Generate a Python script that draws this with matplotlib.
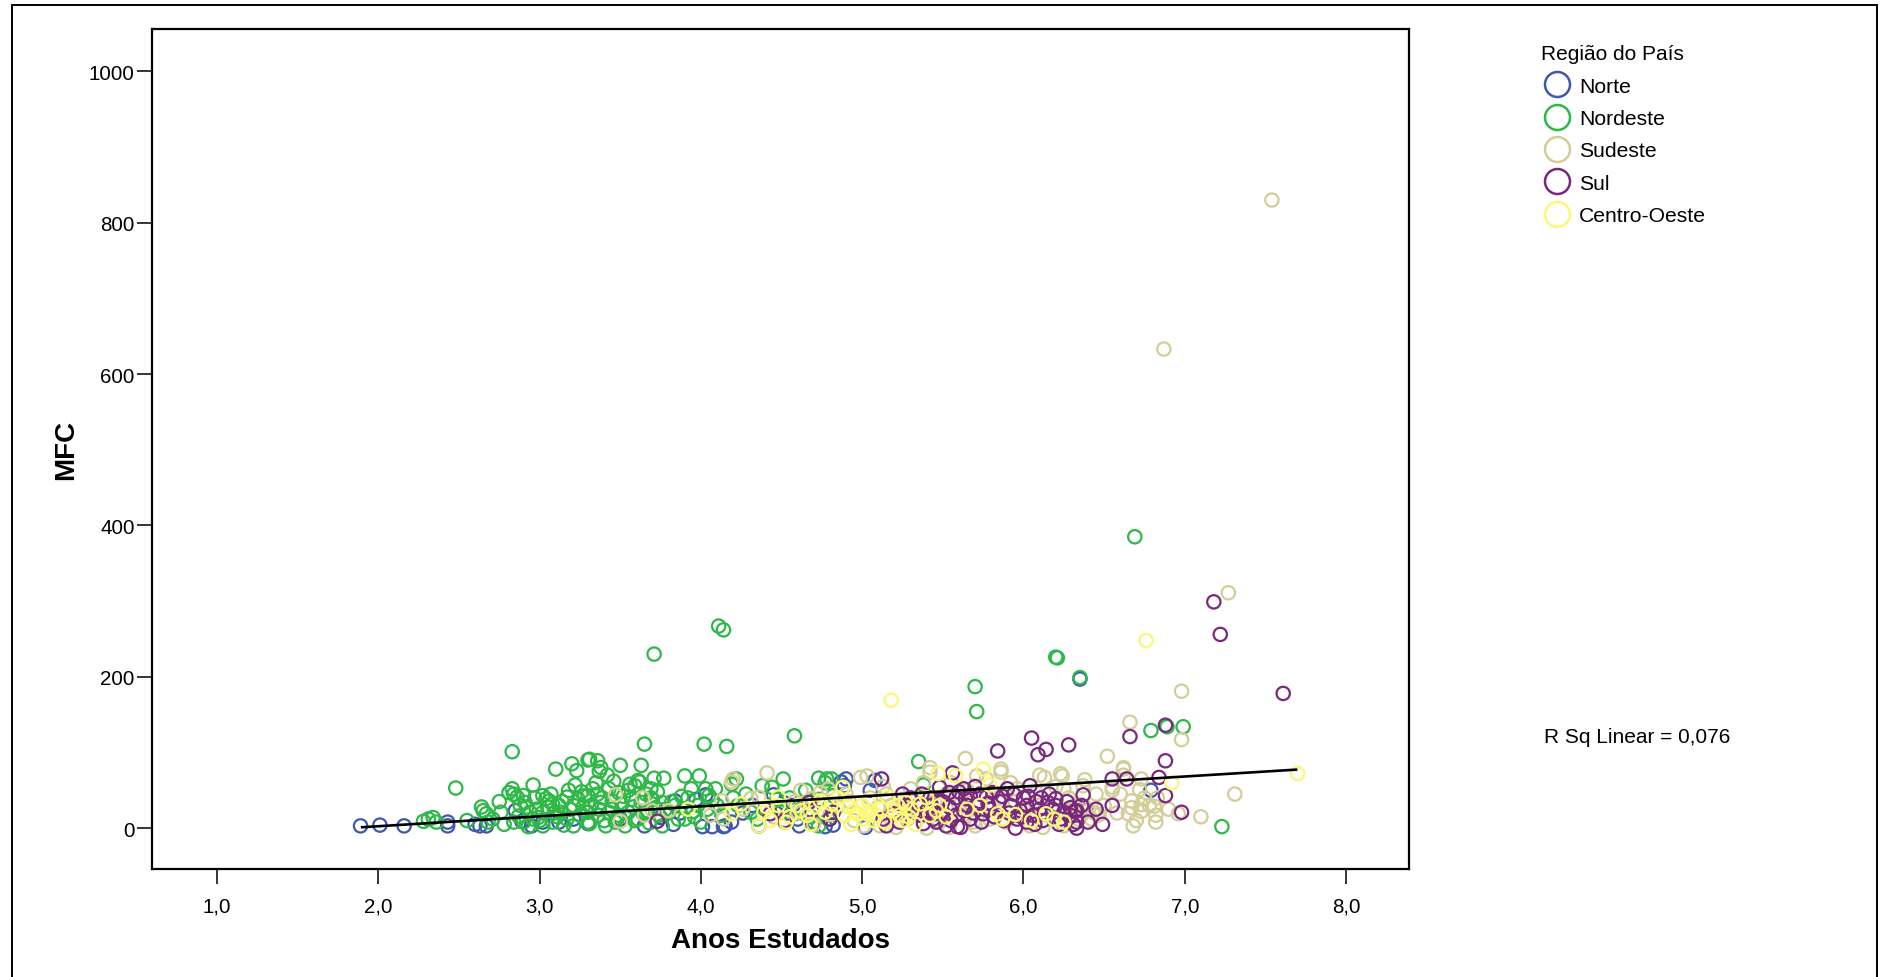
import matplotlib
matplotlib.use("Agg")
import matplotlib.pyplot as plt
from matplotlib.lines import Line2D
from matplotlib.patches import Rectangle

plt.rcParams['font.family'] = ['Liberation Sans', 'DejaVu Sans']

# ---------------- data ----------------
regions = ["Norte", "Nordeste", "Sudeste", "Sul", "Centro-Oeste"]
colors = ["#3e58ac", "#2eb848", "#d3ce97", "#79287d", "#fbf873"]

norte_x = [1.89, 2.01, 2.16, 2.43, 2.43, 2.60, 2.63, 2.67, 2.85, 2.89, 2.95, 3.02, 3.12, 3.21,
           3.65, 3.83, 3.84, 3.87, 3.97, 4.01, 4.07, 4.14, 4.03, 4.15, 4.19, 4.36, 4.45, 4.52,
           4.54, 4.60, 4.61, 4.57, 4.40, 4.32, 4.26, 4.82, 4.89, 4.90, 5.02, 5.05, 5.36, 6.35,
           6.79, 6.39, 4.87, 4.77, 5.08, 3.50, 3.30, 3.75, 4.70]
norte_y = [3, 4, 3, 8, 3, 5, 3, 3, 23, 9, 3, 8, 8, 12,
           3, 5, 36, 20, 38, 2, 2, 2, 44, 3, 8, 3, 44, 33,
           20, 12, 3, 30, 25, 30, 20, 4, 56, 65, 1, 50, 32, 197,
           50, 23, 61, 2, 63, 12, 6, 14, 8]

nordeste_x = [2.48, 2.83, 2.28, 2.31, 2.34, 2.36, 2.55, 2.64, 2.65, 2.67, 2.68, 2.71, 2.76, 2.81,
              2.83, 2.84, 2.86, 2.90, 2.91, 2.92, 2.96, 3.02, 3.04, 3.06, 3.08, 3.10, 3.23, 3.22,
              3.17, 3.28, 3.30, 2.84, 2.90, 2.96, 3.02, 3.08, 3.17, 3.21, 3.25, 3.13, 3.19, 3.21,
              2.98, 3.02, 2.94, 3.29, 3.30,
              3.31, 3.36, 3.38, 3.50, 3.63, 3.65, 4.02, 4.16, 4.58, 3.90, 3.99, 3.77, 3.71, 3.61,
              3.94, 4.03, 4.22, 4.19, 4.38, 4.51, 4.73, 4.78, 3.30, 3.36, 3.43, 3.49, 3.55, 3.59,
              3.62, 3.69, 3.32, 3.38, 3.45, 3.51, 3.57, 3.63, 3.70, 3.76, 3.30, 3.36, 3.43, 3.49,
              3.55, 3.61, 3.67, 3.74, 3.80, 3.86, 3.31, 3.41, 3.47, 3.53, 3.59, 3.76, 3.90, 4.00,
              4.07, 4.10, 4.05, 4.13, 4.23, 4.31, 4.44, 4.50, 4.62, 4.73, 4.77, 4.73, 4.79, 4.82,
              4.82,
              4.11, 4.14, 3.71, 6.69, 6.20, 6.21, 6.35, 5.70, 5.71, 5.35, 5.38, 4.81, 6.79, 6.89,
              6.99, 7.23,
              2.87, 2.99, 3.11, 3.15, 3.27, 3.05, 2.93, 3.12, 3.26, 3.35, 3.45, 3.58, 3.66, 3.72,
              3.84, 3.95, 3.46, 3.40, 3.68, 3.88, 3.98,
              2.75, 2.78, 2.88, 2.97, 3.00, 3.07, 3.09, 3.14, 3.18, 3.24, 3.33, 3.37, 3.39, 3.42,
              3.48, 3.52, 3.56, 3.64, 3.69, 3.73, 3.78, 3.82, 3.92, 3.96, 4.04, 4.09, 4.20, 4.28,
              4.35, 4.47, 4.55, 4.65, 4.68, 3.20, 3.37]
nordeste_y = [53, 101, 9, 12, 14, 8, 10, 28, 23, 19, 8, 12, 21, 47,
              52, 45, 41, 43, 34, 28, 57, 43, 39, 36, 32, 78, 76, 57,
              41, 43, 90, 8, 8, 12, 3, 8, 12, 3, 17, 21, 25, 30,
              25, 21, 21, 21, 8,
              91, 89, 80, 83, 83, 111, 111, 108, 122, 69, 69, 66, 66, 63,
              52, 52, 65, 58, 56, 65, 66, 65, 43, 45, 52, 47, 50, 56,
              61, 52, 30, 34, 36, 32, 38, 34, 38, 34, 21, 17, 21, 17,
              21, 12, 21, 17, 21, 12, 6, 3, 8, 3, 10, 3, 12, 8,
              38, 30, 43, 17, 30, 21, 54, 21, 25, 38, 60, 3, 12, 43,
              21,
              267, 262, 230, 385, 226, 225, 199, 187, 154, 88, 57, 65, 129, 134,
              134, 2,
              16, 14, 15, 4, 28, 28, 2, 30, 48, 60, 25, 28, 45, 27,
              30, 22, 62, 10, 7, 42, 30,
              35, 5, 30, 40, 10, 45, 20, 35, 50, 38, 52, 25, 40, 70,
              12, 42, 58, 20, 40, 48, 25, 35, 40, 15, 25, 52, 40, 45,
              12, 38, 40, 50, 15, 85, 75]

sudeste_x = [7.54, 6.87, 7.27, 6.98, 6.66, 6.98, 6.52, 6.62, 6.73, 6.55, 6.60, 6.67, 6.73, 6.73,
             6.65, 6.68, 6.82, 6.82, 6.37, 6.47, 7.31, 7.10, 6.96, 6.38, 6.40, 6.43, 6.36, 6.42,
             6.46,
             3.47, 3.64, 3.50, 3.65, 3.70, 3.80, 4.06, 4.13, 4.19, 4.20, 4.14, 4.41, 4.36, 4.31,
             4.62, 4.69, 4.74, 4.79, 4.52, 4.60, 4.26,
             4.99, 5.03, 5.30, 5.42, 5.64, 5.71, 5.86, 5.77, 6.13, 6.24, 5.96, 6.08, 6.25, 5.63,
             5.69, 5.79, 5.89, 5.96, 6.32, 6.34, 5.11, 5.21, 5.01, 5.48, 5.54, 6.04, 6.12, 6.25,
             5.42, 5.86, 6.10, 6.23, 6.38, 6.62, 6.62, 6.55, 6.72, 6.75, 6.67, 6.83, 6.81,
             5.15, 5.25, 5.10, 4.92, 5.35, 4.45, 4.70, 4.85, 4.95, 5.20, 5.28, 5.45, 5.52, 5.60,
             5.85, 5.95, 6.00, 6.18, 6.28, 5.40, 5.70,
             4.90, 5.05, 5.13, 5.38, 5.55, 5.65, 5.75, 5.92, 6.05, 6.20, 6.30, 6.45, 6.50, 6.58,
             6.70, 6.78, 6.90, 4.58, 4.80, 5.18]
sudeste_y = [830, 633, 311, 181, 140, 117, 95, 78, 65, 50, 45, 36, 31, 22,
             19, 3, 17, 8, 56, 18, 45, 15, 19, 28, 23, 21, 17, 12,
             17,
             44, 40, 9, 17, 23, 23, 17, 36, 61, 65, 12, 73, 41, 39,
             50, 39, 47, 52, 8, 21, 25,
             67, 69, 52, 74, 92, 69, 74, 65, 67, 69, 52, 47, 52, 17,
             8, 12, 8, 21, 30, 12, 3, 1, 3, 8, 1, 3, 1, 3,
             80, 78, 70, 72, 64, 80, 70, 54, 51, 40, 27, 40, 29,
             45, 38, 28, 35, 30, 15, 5, 28, 10, 20, 12, 35, 45, 30,
             40, 35, 25, 15, 40, 0, 3,
             45, 40, 55, 60, 60, 50, 45, 60, 30, 55, 20, 45, 30, 20,
             10, 30, 25, 35, 18, 30]

sul_x = [7.18, 7.22, 7.61, 6.66, 6.88, 6.88, 6.55, 6.64, 6.84, 6.88, 6.98, 6.37, 6.49, 6.33,
         6.32,
         3.73, 4.43, 4.52, 4.67, 4.69, 4.80, 4.82,
         5.12, 6.05, 5.84, 6.09, 6.14, 6.28, 5.56, 5.90, 6.04, 5.48, 5.54, 5.63, 5.67, 5.73,
         5.77, 5.81, 5.32, 5.36, 5.40, 5.44, 5.50, 5.54, 5.58, 5.63, 5.67, 5.71, 5.75, 5.79,
         5.15, 5.13, 5.19, 5.23, 5.38, 5.46, 5.52, 5.61, 5.92, 5.98, 6.02, 6.06, 6.10, 6.15,
         6.20, 6.25, 6.29, 6.33, 5.96, 6.02, 6.16, 6.20,
         6.29, 6.33, 5.35, 5.45, 5.47, 5.59, 5.64,
         5.85, 5.88, 6.00, 6.12, 6.22, 5.70, 5.95, 6.08, 5.58, 5.42, 5.28, 5.25, 6.40, 6.55,
         5.30, 5.37, 5.43, 5.50, 5.55, 5.60, 5.65, 5.69, 5.74, 5.78, 5.82, 5.87, 5.91, 5.94,
         5.99, 6.03, 6.07, 6.11, 6.13, 6.18, 6.23, 6.27, 6.31, 6.36, 6.45]
sul_y = [299, 256, 178, 121, 136, 89, 65, 65, 67, 43, 21, 44, 5, 0,
         23,
         9, 19, 10, 34, 23, 12, 21,
         65, 119, 102, 97, 104, 110, 73, 52, 56, 54, 47, 52, 43, 45,
         41, 47, 21, 17, 23, 12, 21, 28, 17, 23, 12, 30, 19, 25,
         3, 12, 19, 8, 6, 8, 3, 1, 30, 23, 30, 17, 25, 34,
         30, 21, 17, 23, 12, 8, 45, 39,
         27, 8, 30, 19, 35, 2, 39,
         35, 10, 40, 10, 5, 55, 0, 35, 40, 40, 30, 45, 8, 30,
         40, 45, 30, 35, 10, 48, 30, 20, 8, 33, 15, 42, 20, 45,
         15, 42, 5, 40, 20, 25, 12, 35, 5, 30, 25]

co_x = [6.76, 5.18, 7.70, 6.92,
        3.92, 4.19, 4.25, 4.39, 4.41, 4.43, 4.48, 4.48, 4.53, 4.62, 4.66, 4.71, 4.74, 4.77,
        4.81, 4.36,
        4.88, 4.89, 4.92, 4.95, 4.97, 5.00, 5.01, 5.03, 5.05, 5.07, 5.09, 5.16, 5.20, 5.22,
        5.23, 5.25, 5.27, 5.31, 5.36, 5.42, 5.46, 5.48, 5.58, 5.47, 5.75, 5.79, 5.73, 5.84,
        5.87, 6.14, 6.19,
        4.55, 4.60, 4.68, 4.85, 4.93, 5.04, 5.12, 5.14, 5.29, 5.33, 5.40, 5.52, 5.65, 5.95,
        6.05, 6.25]
co_y = [248, 169, 72, 60,
        25, 19, 32, 21, 28, 10, 41, 30, 8, 23, 17, 28, 36, 21,
        32, 3,
        54, 17, 28, 23, 19, 30, 12, 19, 23, 10, 17, 41, 23, 30,
        17, 10, 34, 25, 32, 17, 23, 30, 69, 72, 78, 57, 30, 19,
        12, 19, 12,
        15, 30, 5, 40, 5, 35, 25, 8, 15, 5, 40, 15, 25, 18,
        10, 8]

fit_x = [1.90, 7.69]
fit_y = [1.2, 77.3]
r2_text = "R Sq Linear = 0,076"

xticks = [1, 2, 3, 4, 5, 6, 7, 8]
xtick_labels = ["1,0", "2,0", "3,0", "4,0", "5,0", "6,0", "7,0", "8,0"]
yticks = [0, 200, 400, 600, 800, 1000]
ytick_labels = ["0", "200", "400", "600", "800", "1000"]

# ---------------- figure ----------------
W, H = 1887, 978
fig = plt.figure(figsize=(W / 100, H / 100), dpi=100)
ax = fig.add_axes([152 / W, 1 - 870 / H, (1409 - 152) / W, (870 - 30) / H])

series = [(norte_x, norte_y), (nordeste_x, nordeste_y), (sudeste_x, sudeste_y),
          (sul_x, sul_y), (co_x, co_y)]
for (xs, ys), c in zip(series, colors):
    ax.scatter(xs, ys, s=92, facecolors='none', edgecolors=c, linewidths=1.6, zorder=2)

ax.plot(fit_x, fit_y, color='black', linewidth=1.9, zorder=3)

ax.set_xlim(0.597, 8.39)
ax.set_ylim(-54, 1056)
ax.set_xticks(xticks)
ax.set_xticklabels(xtick_labels)
ax.set_yticks(yticks)
ax.set_yticklabels(ytick_labels)
for s in ax.spines.values():
    s.set_linewidth(1.6)
ax.tick_params(axis='both', direction='out', length=11, width=1.1, labelsize=14.8, colors='black')
ax.tick_params(axis='x', pad=8.5)
ax.tick_params(axis='y', pad=1.5)

ax.set_xlabel("Anos Estudados", fontsize=20, fontweight='bold')
ax.xaxis.label.set_va('center')
ax.xaxis.set_label_coords(0.5, -71 / 840)
ax.set_ylabel("MFC", fontsize=20, fontweight='bold')
ax.yaxis.label.set_va('center')
ax.yaxis.set_label_coords((66 - 152) / 1257, 0.5)

handles = [Line2D([], [], linestyle='none', marker='o', markersize=18,
                  markerfacecolor='none', markeredgecolor=c, markeredgewidth=1.8)
           for c in colors]
leg = fig.legend(handles, regions, title="Região do País", loc='upper left',
                 bbox_to_anchor=(1541 / W, 1 - 45.5 / H), frameon=False, fontsize=15.2,
                 title_fontsize=15, borderpad=0, borderaxespad=0, handlelength=1.5,
                 handletextpad=0.3, labelspacing=0.63)
leg._legend_box.align = "left"

fig.text(1544 / W, 1 - 738 / H, r2_text, fontsize=15, ha='left', va='center')

fig.patches.append(Rectangle((12 / W, -0.1), (1877 - 12) / W, 1.1 - 6 / H,
                             transform=fig.transFigure, fill=False, edgecolor='black',
                             linewidth=1.4))

fig.savefig("out.png", dpi=100)
